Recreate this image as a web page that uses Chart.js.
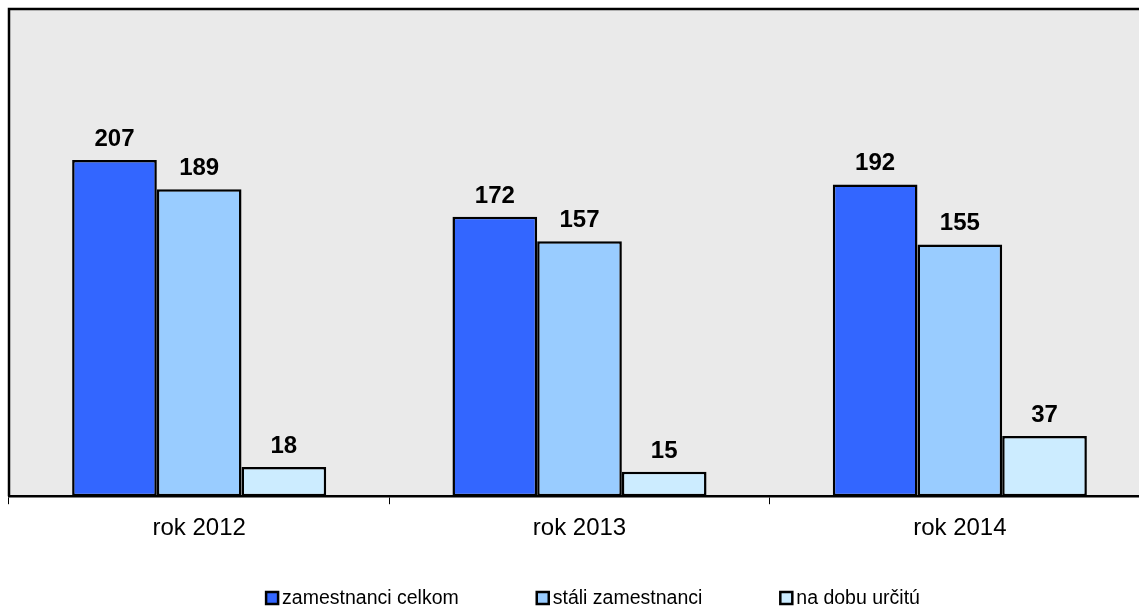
<!DOCTYPE html>
<html>
<head>
<meta charset="utf-8">
<script src="https://cdn.jsdelivr.net/npm/chart.js@4/dist/chart.umd.min.js"></script>
<style>
  html, body { margin: 0; padding: 0; background: #fff; overflow: hidden; }
  #wrap { width: 1150px; height: 609px; }
</style>
</head>
<body>
<div id="wrap"><canvas id="chart" width="1150" height="609"></canvas></div>
<script>
// kategórie a hodnoty
const roky = ['rok 2012', 'rok 2013', 'rok 2014'];
const celkom = [207, 172, 192];
const stali = [189, 157, 155];
const urcitu = [18, 15, 37];

const nazvy = ['zamestnanci celkom', 'stáli zamestnanci', 'na dobu určitú'];
const farby = ['#3366FF', '#99CCFF', '#CCECFF'];

const PISMO = '"Liberation Sans", Arial, sans-serif';

// pozadie a rámik plochy grafu
const plochaPlugin = {
    id: 'plocha',
    beforeDraw(chart) {
        const { ctx, chartArea: a } = chart;
        ctx.save();
        ctx.fillStyle = '#EAEAEA';
        ctx.fillRect(a.left, a.top, a.right - a.left, a.bottom - a.top);
        ctx.restore();
    },
    afterDatasetsDraw(chart) {
        const { ctx, chartArea: a } = chart;
        ctx.save();
        ctx.strokeStyle = '#000';
        ctx.lineWidth = 2.5;
        ctx.beginPath();
        ctx.moveTo(a.left, a.bottom);
        ctx.lineTo(a.left, a.top);
        ctx.lineTo(a.right, a.top);
        ctx.stroke();
        ctx.restore();
    }
};

// hodnoty nad stĺpcami
const hodnotyPlugin = {
    id: 'hodnoty',
    afterDatasetsDraw(chart) {
        const ctx = chart.ctx;
        ctx.save();
        ctx.font = 'bold 24px ' + PISMO;
        ctx.fillStyle = '#000';
        ctx.textAlign = 'center';
        ctx.textBaseline = 'alphabetic';
        chart.data.datasets.forEach((ds, i) => {
            chart.getDatasetMeta(i).data.forEach((bar, j) => {
                ctx.fillText(ds.data[j], bar.x, bar.y - 14);
            });
        });
        ctx.restore();
    }
};

// legenda pod grafom
const legendaPlugin = {
    id: 'legenda',
    afterDraw(chart) {
        const ctx = chart.ctx;
        ctx.save();
        ctx.font = '19.5px ' + PISMO;
        const box = 12, medzera = 4, rozostup = 78, y = 598;
        const sirky = chart.data.datasets.map(ds => ctx.measureText(ds.label).width);
        const spolu = sirky.reduce((s, w) => s + box + medzera + w, 0) + rozostup * (sirky.length - 1);
        let x = 593 - spolu / 2;
        chart.data.datasets.forEach((ds, i) => {
            ctx.fillStyle = ds.backgroundColor;
            ctx.fillRect(x, y - box / 2, box, box);
            ctx.strokeStyle = '#000';
            ctx.lineWidth = 2.5;
            ctx.strokeRect(x, y - box / 2, box, box);
            ctx.fillStyle = '#000';
            ctx.textBaseline = 'middle';
            ctx.textAlign = 'left';
            ctx.fillText(ds.label, x + box + medzera, y + 1);
            x += box + medzera + sirky[i] + rozostup;
        });
        ctx.restore();
    }
};

const ctx = document.getElementById('chart').getContext('2d');
new Chart(ctx, {
    type: 'bar',
    data: {
        labels: roky,
        datasets: [celkom, stali, urcitu].map((d, i) => ({
            label: nazvy[i],
            data: d,
            backgroundColor: farby[i],
            borderColor: '#000',
            borderWidth: 2.5,
            borderSkipped: false,
            categoryPercentage: 0.668,
            barPercentage: 1.0
        }))
    },
    options: {
        responsive: false,
        animation: false,
        layout: { padding: { left: 9, top: 9, right: 0, bottom: 56 } },
        plugins: {
            legend: { display: false },
            tooltip: { enabled: false }
        },
        scales: {
            x: {
                grid: {
                    offset: true,
                    drawOnChartArea: false,
                    drawTicks: true,
                    tickLength: 8,
                    color: '#000',
                    lineWidth: 1
                },
                border: { color: '#000', width: 2.5 },
                ticks: {
                    color: '#000',
                    padding: 10,
                    font: { family: PISMO, size: 24 }
                }
            },
            y: {
                display: false,
                min: 0,
                max: 300
            }
        }
    },
    plugins: [plochaPlugin, hodnotyPlugin, legendaPlugin]
});
</script>
</body>
</html>
